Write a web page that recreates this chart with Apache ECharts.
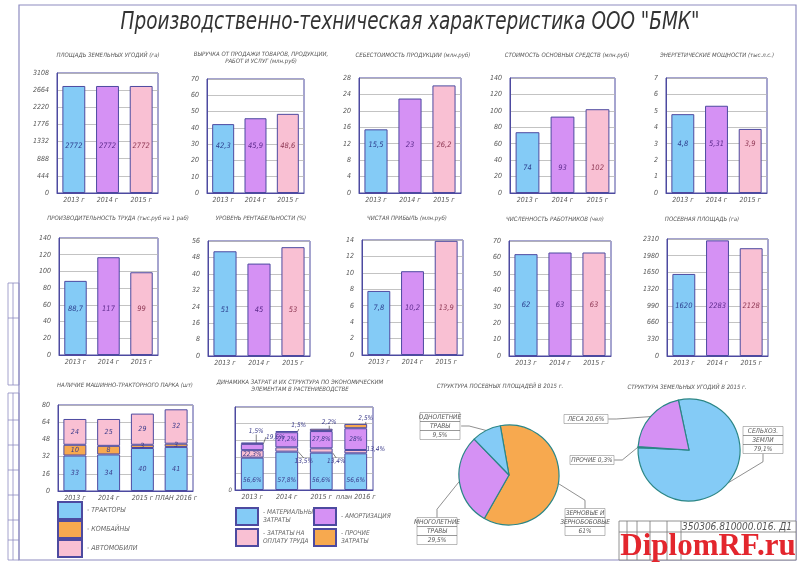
<!DOCTYPE html>
<html>
<head>
<meta charset="utf-8">
<title>Производственно-техническая характеристика ООО "БМК"</title>
<script src="https://cdn.jsdelivr.net/npm/echarts@6/dist/echarts.min.js"></script>
<style>
  html, body { margin: 0; padding: 0; background: #fff; }
  #main { width: 800px; height: 565px; }
</style>
</head>
<body>
<div id="main"></div>
<script>
// --- данные с чертежа ---
const years = ['2013 г', '2014 г', '2015 г'];
const landArea = [2772, 2772, 2772];
const revenue = [42.3, 45.9, 48.6];
const costPrice = [15.5, 23, 26.2];
const fixedAssets = [74, 93, 102];
const enginePower = [4.8, 5.31, 3.9];
const laborProductivity = [88.7, 117, 99];
const profitability = [51, 45, 53];
const netProfit = [7.8, 10.2, 13.9];
const staff = [62, 63, 63];
const sownArea = [1620, 2283, 2128];

const barTitles = [
  'ПЛОЩАДЬ ЗЕМЕЛЬНЫХ УГОДИЙ (га)',
  'ВЫРУЧКА ОТ ПРОДАЖИ ТОВАРОВ, ПРОДУКЦИИ,\nРАБОТ И УСЛУГ (млн.руб)',
  'СЕБЕСТОИМОСТЬ ПРОДУКЦИИ (млн.руб)',
  'СТОИМОСТЬ ОСНОВНЫХ СРЕДСТВ (млн.руб)',
  'ЭНЕРГЕТИЧЕСКИЕ МОЩНОСТИ (тыс.л.с.)',
  'ПРОИЗВОДИТЕЛЬНОСТЬ ТРУДА (тыс.руб на 1 раб)',
  'УРОВЕНЬ РЕНТАБЕЛЬНОСТИ (%)',
  'ЧИСТАЯ ПРИБЫЛЬ (млн.руб)',
  'ЧИСЛЕННОСТЬ РАБОТНИКОВ (чел)',
  'ПОСЕВНАЯ ПЛОЩАДЬ (га)'
];
const barValues = [landArea, revenue, costPrice, fixedAssets, enginePower,
  laborProductivity, profitability, netProfit, staff, sownArea];
const axisMax = [3108, 70, 28, 140, 7, 140, 56, 14, 70, 2310];
const axisStep = [444, 10, 4, 20, 1, 20, 8, 2, 10, 330];

// машинно-тракторный парк
const parkYears = ['2013 г', '2014 г', '2015 г', 'ПЛАН 2016 г'];
const parkNames = ['ТРАКТОРЫ', 'КОМБАЙНЫ', 'АВТОМОБИЛИ'];
const tractors = [33, 34, 40, 41];
const combines = [10, 8, 3, 3];
const cars = [24, 25, 29, 32];

// структура затрат (высоты сегментов по чертежу, подписи - доли)
const costYears = ['2013 г', '2014 г', '2015 г', 'план 2016 г'];
const materialCost = [1.95, 2.31, 2.25, 2.21];
const laborCost = [0.45, 0.26, 0.26, 0.2];
const amortization = [0.38, 0.91, 1.04, 1.31];
const otherCost = [0.08, 0.07, 0.14, 0.26];
const materialPct = ['56,6%', '57,8%', '56,6%', '56,6%'];
const laborPct = ['22,3%', '13,5%', '13,4%', '13,4%'];
const amortPct = ['19,6%', '27,2%', '27,8%', '28%'];
const otherPct = ['1,5%', '1,5%', '2,2%', '2,5%'];

// структуры 2015 г.
const sownNames = ['ЗЕРНОВЫЕ И\nЗЕРНОБОБОВЫЕ', 'МНОГОЛЕТНИЕ\nТРАВЫ', 'ОДНОЛЕТНИЕ\nТРАВЫ'];
const sownShares = [61, 29.5, 9.5];
const landNames = ['СЕЛЬХОЗ.\nЗЕМЛИ', 'ПРОЧИЕ', 'ЛЕСА'];
const landShares = [79.1, 0.3, 20.6];

// --- оформление ---
const FONT = '"Liberation Sans Narrow", "DejaVu Sans Condensed", "Liberation Sans", sans-serif';
const NAVY = '#4d4aa0';
const GRIDLINE = '#b4b4b4';
const TXT = '#555';
const barColors = ['#84cbf6', '#d591f4', '#f9c0d3'];
const BLUE = '#84cbf6', PURPLE = '#d591f4', PINK = '#f9c0d3', ORANGE = '#f7a94f';

// [left, top, width, height]
const barGrids = [
  [57, 73, 101, 120], [207, 79, 97, 114], [359, 78, 102, 115], [510, 78, 105, 115], [666, 78, 101, 115],
  [59, 238, 99, 117], [208, 241, 102, 115], [362, 240, 101, 115], [509, 241, 102, 115], [667, 239, 101, 117]
];
const titlePos = [[108, 55], [261, 58], [413, 55], [567, 55], [717, 55],
  [118, 218], [261, 218], [407, 218], [555, 219], [702, 219]];
const labelLift = [43, 43, 44, 21, 45, 42, 42, 43, 47, 46];

const fmt = v => String(v).replace('.', ',');

const myChart = echarts.init(document.getElementById('main'));

const grid = [], xAxis = [], yAxis = [], series = [];

const xAxisOf = (idx, cats) => ({
  type: 'category', gridIndex: idx, data: cats,
  axisLine: { lineStyle: { color: NAVY } }, axisTick: { show: false },
  axisLabel: { fontSize: 7, color: TXT, margin: 4, interval: 0 }
});
const yAxisOf = (idx, max, step, labelFmt) => ({
  type: 'value', gridIndex: idx, min: 0, max: max, interval: step,
  axisLine: { show: true, lineStyle: { color: NAVY } }, axisTick: { show: false },
  splitLine: { lineStyle: { color: GRIDLINE, width: 0.8 } },
  axisLabel: { fontSize: 7, color: TXT, margin: 8, formatter: labelFmt || (v => String(v)) }
});
const gridOf = (l, t, w, h) => ({ left: l, top: t, width: w, height: h, show: true, borderColor: NAVY, borderWidth: 1, backgroundColor: '#fff' });

barValues.forEach((vals, i) => {
  const g = barGrids[i];
  grid.push(gridOf(g[0], g[1], g[2], g[3]));
  xAxis.push(xAxisOf(i, years));
  yAxis.push(yAxisOf(i, axisMax[i], axisStep[i]));
  series.push({
    type: 'bar', name: 'bar' + i, xAxisIndex: i, yAxisIndex: i, data: vals,
    barWidth: '68%',
    itemStyle: { color: p => barColors[p.dataIndex], borderColor: NAVY, borderWidth: 1 },
    label: {
      show: true, position: 'insideBottom', distance: labelLift[i],
      formatter: p => '{c' + p.dataIndex + '|' + fmt(p.value) + '}',
      rich: {
        c0: { color: '#2d3f8e', fontSize: 7.5 },
        c1: { color: '#5c2a8c', fontSize: 7.5 },
        c2: { color: '#8c3552', fontSize: 7.5 }
      }
    },
    emphasis: { disabled: true }
  });
});

// парк техники
grid.push(gridOf(58, 405, 135, 86));
xAxis.push(xAxisOf(10, parkYears));
yAxis.push(yAxisOf(10, 80, 16));
[[parkNames[0], tractors, BLUE], [parkNames[1], combines, ORANGE], [parkNames[2], cars, PINK]].forEach(s => {
  series.push({
    type: 'bar', name: s[0], stack: 'park', xAxisIndex: 10, yAxisIndex: 10, data: s[1], barWidth: '68%',
    itemStyle: { color: s[2], borderColor: NAVY, borderWidth: 1 },
    label: { show: true, position: 'inside', fontSize: 7, color: '#3a3a8a', formatter: p => fmt(p.value) },
    emphasis: { disabled: true }
  });
});

// структура затрат
grid.push(gridOf(235, 407, 138, 83));
xAxis.push(xAxisOf(11, costYears));
yAxis.push(yAxisOf(11, 5, 1, v => (v === 0 ? '0' : '')));
yAxis[11].axisLabel.margin = 3;
yAxis[11].axisLabel.fontSize = 6;

const laborShift = [[0, 0], [17, 12], [15, 11], [20, -2]];
const amortShift = [[23, -10], [0, 0], [0, 0], [0, 0]];
const otherShift = [[4, -3], [12, 3], [8, 2], [10, 3]];
const leader = { show: true, lineStyle: { color: '#333', width: 0.6 } };
const costLabel = { show: true, fontSize: 6.5, color: '#3a3a8a' };

series.push({
  type: 'bar', name: 'МАТЕРИАЛЬНЫЕ\nЗАТРАТЫ', stack: 'cost', xAxisIndex: 11, yAxisIndex: 11, data: materialCost, barWidth: '66%',
  itemStyle: { color: BLUE, borderColor: NAVY, borderWidth: 1 },
  label: Object.assign({}, costLabel, { position: 'insideBottom', distance: 6, formatter: p => materialPct[p.dataIndex] }),
  emphasis: { disabled: true }
});
series.push({
  type: 'bar', name: 'ЗАТРАТЫ НА\nОПЛАТУ ТРУДА', stack: 'cost', xAxisIndex: 11, yAxisIndex: 11, data: laborCost, barWidth: '66%',
  itemStyle: { color: PINK, borderColor: NAVY, borderWidth: 1 },
  label: Object.assign({}, costLabel, { position: 'inside', formatter: p => laborPct[p.dataIndex] }),
  labelLayout: p => ({ dx: laborShift[p.dataIndex][0], dy: laborShift[p.dataIndex][1] }),
  labelLine: leader,
  emphasis: { disabled: true }
});
series.push({
  type: 'bar', name: 'АМОРТИЗАЦИЯ', stack: 'cost', xAxisIndex: 11, yAxisIndex: 11, data: amortization, barWidth: '66%',
  itemStyle: { color: PURPLE, borderColor: NAVY, borderWidth: 1 },
  label: Object.assign({}, costLabel, { position: 'inside', formatter: p => amortPct[p.dataIndex] }),
  labelLayout: p => ({ dx: amortShift[p.dataIndex][0], dy: amortShift[p.dataIndex][1] }),
  labelLine: leader,
  emphasis: { disabled: true }
});
series.push({
  type: 'bar', name: 'ПРОЧИЕ\nЗАТРАТЫ', stack: 'cost', xAxisIndex: 11, yAxisIndex: 11, data: otherCost, barWidth: '66%',
  itemStyle: { color: ORANGE, borderColor: NAVY, borderWidth: 1 },
  label: Object.assign({}, costLabel, { position: 'top', formatter: p => otherPct[p.dataIndex] }),
  labelLayout: p => ({ dx: otherShift[p.dataIndex][0], dy: otherShift[p.dataIndex][1] }),
  labelLine: leader,
  emphasis: { disabled: true }
});

// круговые
const cellRich = {
  cell: { width: 40, height: 9, lineHeight: 9, align: 'center', fontSize: 6.5, color: TXT, borderColor: '#777', borderWidth: 0.5 },
  wide: { width: 44, height: 9, lineHeight: 9, align: 'center', fontSize: 6.5, color: TXT, borderColor: '#777', borderWidth: 0.5 }
};
const cellLabel = (name, v) => name.split('\n').concat([fmt(v) + '%']).map(t => '{cell|' + t + '}').join('\n');

const sownColors = [ORANGE, PURPLE, BLUE];
const sownLabelPos = [[585, 522], [437, 531], [440, 426]];
series.push({
  type: 'pie', name: 'sown', center: [509, 475], radius: 50, startAngle: 100, clockwise: true,
  data: sownNames.map((n, k) => ({ name: n, value: sownShares[k] })),
  itemStyle: { color: p => sownColors[p.dataIndex], borderColor: '#2b8686', borderWidth: 1.2 },
  label: { formatter: p => cellLabel(p.name, p.value), rich: cellRich },
  labelLine: { show: true, length: 8, length2: 8, lineStyle: { color: '#444', width: 0.6 } },
  labelLayout: p => ({ x: sownLabelPos[p.dataIndex][0], y: sownLabelPos[p.dataIndex][1], align: 'center', verticalAlign: 'middle' }),
  emphasis: { disabled: true }
});

const landColors = [BLUE, '#c8b445', PURPLE];
const landLabelPos = [[763, 440], [592, 460], [586, 419]];
series.push({
  type: 'pie', name: 'land', center: [689, 450], radius: 51, startAngle: 102, clockwise: true,
  data: landNames.map((n, k) => ({ name: n, value: landShares[k] })),
  itemStyle: { color: p => landColors[p.dataIndex], borderColor: '#2b8686', borderWidth: 1.2 },
  label: {
    formatter: p => (p.dataIndex === 0 ? cellLabel(p.name, p.value) : '{wide|' + p.name + ' ' + fmt(p.value) + '%}'),
    rich: cellRich
  },
  labelLine: { show: true, length: 8, length2: 8, lineStyle: { color: '#444', width: 0.6 } },
  labelLayout: p => ({ x: landLabelPos[p.dataIndex][0], y: landLabelPos[p.dataIndex][1], align: 'center', verticalAlign: 'middle' }),
  emphasis: { disabled: true }
});

// --- рамка, заголовки, штамп ---
const txt = (x, y, text, size, color) => ({
  type: 'text', x: x, y: y, silent: true,
  style: { text: text, fill: color || '#555', font: 'italic ' + size + 'px ' + FONT, textAlign: 'center', textVerticalAlign: 'middle', align: 'center', verticalAlign: 'middle', lineHeight: size + 1 }
});
const ln = (x1, y1, x2, y2, c, w) => ({ type: 'line', silent: true, shape: { x1, y1, x2, y2 }, style: { stroke: c || '#8e8cc0', lineWidth: w || 0.8 } });

const mainTitle = txt(410, 22, 'Производственно-техническая характеристика ООО "БМК"', 25, '#333');
mainTitle.scaleX = 0.82;

const graphics = [
  { type: 'rect', silent: true, shape: { x: 19, y: 5, width: 777, height: 555 }, style: { fill: 'none', stroke: '#8e8cc0', lineWidth: 1.2 } },
  { type: 'rect', silent: true, shape: { x: 8, y: 283, width: 11, height: 102 }, style: { fill: 'none', stroke: '#8e8cc0', lineWidth: 0.8 } },
  { type: 'rect', silent: true, shape: { x: 8, y: 393, width: 11, height: 167 }, style: { fill: 'none', stroke: '#8e8cc0', lineWidth: 0.8 } },
  ln(13, 283, 13, 385), ln(8, 318, 19, 318), ln(13, 393, 13, 560),
  ln(8, 420, 19, 420), ln(8, 445, 19, 445), ln(8, 470, 19, 470), ln(8, 495, 19, 495), ln(8, 520, 19, 520), ln(8, 540, 19, 540),
  mainTitle,
  txt(125, 385, 'НАЛИЧИЕ МАШИННО-ТРАКТОРНОГО ПАРКА (шт)', 6),
  txt(300, 386, 'ДИНАМИКА ЗАТРАТ И ИХ СТРУКТУРА ПО ЭКОНОМИЧЕСКИМ\nЭЛЕМЕНТАМ В РАСТЕНИЕВОДСТВЕ', 6),
  txt(500, 386, 'СТРУКТУРА ПОСЕВНЫХ ПЛОЩАДЕЙ В 2015 г.', 6),
  txt(687, 387, 'СТРУКТУРА ЗЕМЕЛЬНЫХ УГОДИЙ В 2015 г.', 6),
  // штамп
  { type: 'rect', silent: true, shape: { x: 619, y: 521, width: 177, height: 39 }, style: { fill: '#fff', stroke: '#777', lineWidth: 0.8 } },
  ln(619, 532, 796, 532, '#777'), ln(627, 521, 627, 560, '#777'), ln(637, 521, 637, 560, '#777'),
  ln(650, 521, 650, 560, '#777'), ln(667, 521, 667, 560, '#777'), ln(681, 521, 681, 560, '#777'),
  txt(737, 527, '350306.810000.016. Д1', 10),
  {
    type: 'text', x: 708, y: 547, silent: true, z: 100,
    style: { text: 'DiplomRF.ru', fill: '#e3262d', font: 'bold 31px "Liberation Serif", serif', textAlign: 'center', textVerticalAlign: 'middle', align: 'center', verticalAlign: 'middle' }
  }
];
barTitles.forEach((t, i) => graphics.push(txt(titlePos[i][0], titlePos[i][1], t, 6)));

const legendBase = {
  orient: 'vertical', padding: 0, itemGap: 2, icon: 'rect', selectedMode: false,
  formatter: n => '- ' + n
};
const parkLegendTop = [501, 520, 539];

const option = {
  animation: false,
  backgroundColor: '#fff',
  textStyle: { fontFamily: FONT, fontStyle: 'italic' },
  grid: grid,
  xAxis: xAxis,
  yAxis: yAxis,
  legend: parkNames.map((n, k) => Object.assign({}, legendBase, {
    data: [n], left: 57, top: parkLegendTop[k],
    itemWidth: 24, itemHeight: 17, textStyle: { fontSize: 7, color: '#666' }
  })).concat([
    Object.assign({}, legendBase, {
      data: ['МАТЕРИАЛЬНЫЕ\nЗАТРАТЫ', 'ЗАТРАТЫ НА\nОПЛАТУ ТРУДА'], left: 235, top: 507, height: 40,
      itemWidth: 22, itemHeight: 17, textStyle: { fontSize: 6.5, color: '#666', lineHeight: 8 }
    }),
    Object.assign({}, legendBase, {
      data: ['АМОРТИЗАЦИЯ', 'ПРОЧИЕ\nЗАТРАТЫ'], left: 313, top: 507, height: 40,
      itemWidth: 22, itemHeight: 17, textStyle: { fontSize: 6.5, color: '#666', lineHeight: 8 }
    })
  ]),
  graphic: { elements: graphics },
  series: series
};

myChart.setOption(option);
</script>
</body>
</html>
